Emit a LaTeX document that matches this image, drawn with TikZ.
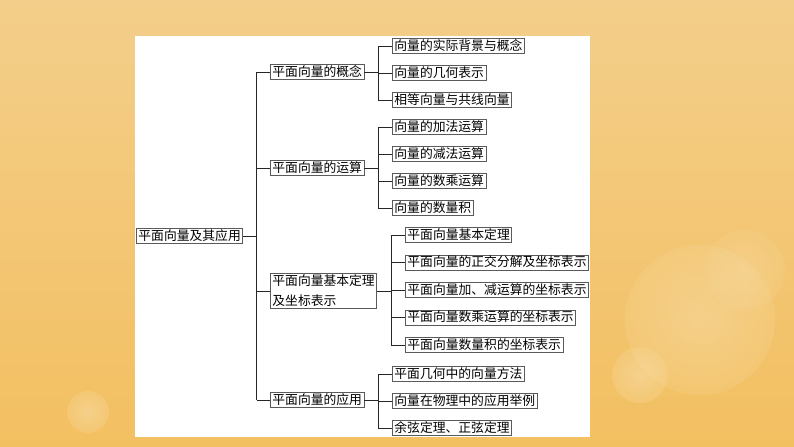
\documentclass[tikz,border=0pt]{standalone}
\usepackage{fontspec}
\newfontfamily\cjk{Noto Sans CJK SC}
\usepackage{tikz}
\usetikzlibrary{positioning,calc}
\definecolor{bgtop}{HTML}{F7DCA0}
\definecolor{bgbottom}{HTML}{F6BE4C}
\definecolor{bgside}{HTML}{F1C276}
\definecolor{bglight}{HTML}{FCE8B0}
\definecolor{boxline}{HTML}{5A5A5A}

\begin{document}
\begin{tikzpicture}[x=0.75pt, y=-0.75pt,
    topic/.style={draw=boxline, line width=0.6pt, fill=white, anchor=west,
      font=\cjk\fontsize{9.6}{15}\selectfont, inner xsep=1.5pt, inner ysep=0.4pt,
      text height=8.2pt, text depth=2.2pt, align=left},
    link/.style={draw=black!85, line width=0.6pt}]
  \useasboundingbox (0,0) rectangle (794,447);

  % Background
  \shade[top color=bgtop, bottom color=bgbottom] (0,0) rectangle (794,447);
  \shade[left color=bgside, middle color=bglight, right color=bgside, opacity=0.5] (0,0) rectangle (794,447);
  \shade[inner color=white, outer color=bgtop, opacity=0.25] (88,412) circle (21);
  \shade[inner color=white, outer color=bgtop, opacity=0.2] (700,320) circle (75);
  \shade[inner color=white, outer color=bgtop, opacity=0.25] (640,375) circle (28);
  \shade[inner color=white, outer color=bgtop, opacity=0.15] (745,270) circle (40);
  \fill[white] (135,36) rectangle (590,437);

  % Root and main branches
  \node[topic] (root) at (136,236) {平面向量及其应用};
  \node[topic] (concept) at (270,72) {平面向量的概念};
  \node[topic] (oper) at (270,168) {平面向量的运算};
  \node[topic, text height=23.2pt] (basis) at (270,291) {平面向量基本定理\\及坐标表示};
  \node[topic] (appl) at (270,400) {平面向量的应用};

  % Leaves
  \foreach \t [count=\i] in {向量的实际背景与概念, 向量的几何表示, 相等向量与共线向量}
    \node[topic] (concept\i) at (392,19+27*\i) {\t};
  \foreach \t [count=\i] in {向量的加法运算, 向量的减法运算, 向量的数乘运算, 向量的数量积}
    \node[topic] (oper\i) at (392,100+27*\i) {\t};
  \foreach \t [count=\i] in {平面向量基本定理, 平面向量的正交分解及坐标表示,
      平面向量加、减运算的坐标表示, 平面向量数乘运算的坐标表示, 平面向量数量积的坐标表示}
    \node[topic] (basis\i) at (405,207.5+27.5*\i) {\t};
  \foreach \t [count=\i] in {平面几何中的向量方法, 向量在物理中的应用举例, 余弦定理、正弦定理}
    \node[topic] (appl\i) at (392,347+27*\i) {\t};

  % Trunk
  \coordinate (jroot) at ($(root.east)!0.5!(root.east -| concept.west)$);
  \draw[link] (root.east) -- (jroot);
  \draw[link] (jroot |- concept.west) -- (jroot |- appl.west);
  \foreach \n in {concept, oper, basis, appl}
    \draw[link] (jroot |- \n.west) -- (\n.west);

  % Branches to leaves
  \foreach \n/\k in {concept/3, oper/4, basis/5, appl/3} {
    \coordinate (j\n) at ($(\n.east)!0.5!(\n.east -| \n1.west)$);
    \draw[link] (\n.east) -- (j\n);
    \draw[link] (j\n |- \n1.west) -- (j\n |- \n\k.west);
    \foreach \i in {1,...,\k}
      \draw[link] (j\n |- \n\i.west) -- (\n\i.west);
  }
\end{tikzpicture}
\end{document}
